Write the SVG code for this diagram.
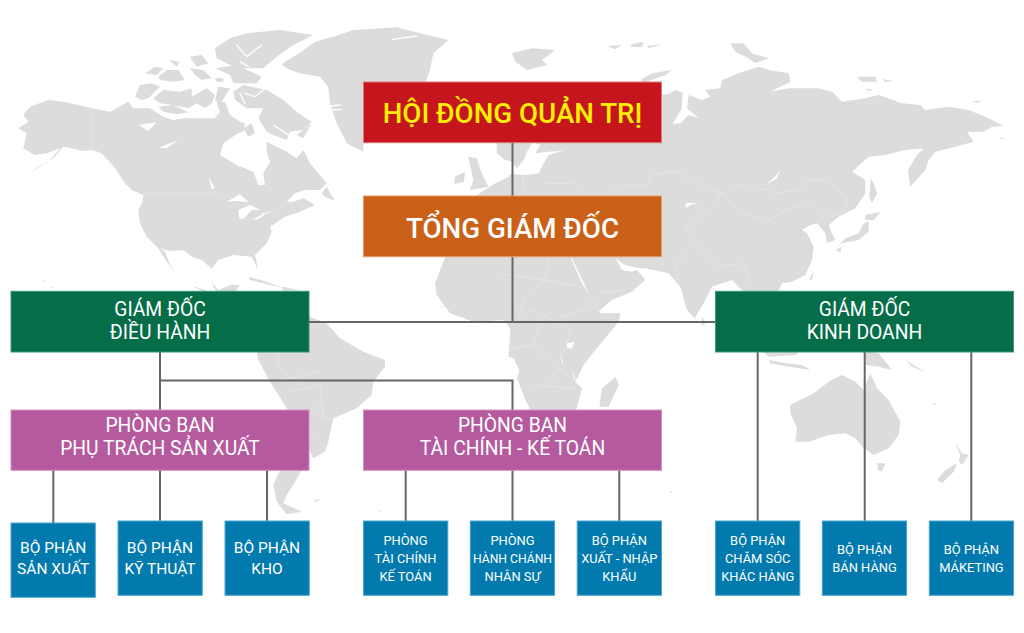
<svg xmlns="http://www.w3.org/2000/svg" width="1024" height="633" viewBox="0 0 1024 633">
<style>
.land{fill:#dcdcdc;stroke:none}
.sea{fill:#fff;stroke:none}
.chan{fill:none;stroke:#fff;stroke-width:4;stroke-linecap:round;stroke-linejoin:round}
.bd{fill:none;stroke:#e9e9e9;stroke-width:2}
.c{fill:none;stroke:#666;stroke-width:2}
text{font-family:Roboto,"Liberation Sans",sans-serif;text-anchor:middle;fill:#fff}
.t1{font-size:27.7px;font-weight:500}
.t2{font-size:19.3px}
.t3{font-size:15.5px}
.t4{font-size:12.9px}
.red{fill:#c5161d;stroke:#e2777a}
.org{fill:#cb6018;stroke:#e59a64}
.grn{fill:#056d47;stroke:#3b9775}
.pnk{fill:#b55a9f;stroke:#d68fc5}
.blu{fill:#027aae;stroke:#4aa5cf}
</style>
<rect width="1024" height="633" fill="#fff"/>
<g id="map">
<g transform="translate(10,95) scale(.33333)">
<path class="land" d="M30,245L60,232L95,210L130,190L160,155L185,160L215,168L250,165L275,175L300,200L320,225L345,265L365,285L400,300L398,320L385,345L390,385L410,425L445,460L470,500L505,545L480,510L465,470L450,460L480,468L520,465L545,485L575,495L605,520L610,575L620,590L660,590L665,570L625,585L608,565L606,520L625,495L670,480L725,485L745,525L735,480L770,445L785,410L780,395L825,365L870,350L915,330L880,310L850,320L830,320L855,295L885,285L930,285L950,265L925,235L900,205L880,165L860,190L830,170L770,140L770,170L780,200L760,235L765,270L745,270L730,230L680,210L630,180L640,145L690,110L640,118L665,100L705,90L650,72L610,70L520,70L490,75L460,65L420,40L370,40L355,20L300,50L245,40L170,22L115,15L60,35L40,60L55,80L25,100L50,115L40,160L75,180L110,175L150,160L120,195L75,225Z"/>
<path class="land" d="M935,295L950,275L975,318L945,305Z"/>
<path class="land" d="M700,100L725,85L735,115L715,125ZM880,105L905,85L880,130L860,120ZM95,555L105,558L100,560ZM122,572L130,578L124,580Z"/>
<path class="sea" d="M385,90L440,82L415,108ZM445,158L505,135L470,160ZM595,245L615,280L605,282ZM650,320L690,298L715,322L680,318ZM685,345L720,330L750,345L725,345L700,372L688,370ZM725,375L785,345L745,372ZM750,355L785,350L760,358ZM772,78L795,62L790,78Z"/>
<path class="bd" d="M245,40L245,165L275,175L320,225L340,265M400,297L625,297L665,310M450,460L480,468L520,465L545,485L575,495L605,520M830,320L800,345L760,358"/>
</g>
<g transform="translate(130,25) scale(.33333)">
<path class="land" d="M255,70L300,40L350,25L450,15L550,30L490,60L440,95L400,130L330,130L300,120L260,100Z"/>
<path class="land" d="M255,130L320,120L395,155L380,175L310,175L300,150Z"/>
<path class="land" d="M45,145L75,125L100,130L80,150ZM85,155L110,135L145,135L165,165L130,170L90,165ZM115,105L150,110L140,125ZM180,95L215,90L235,115L200,125ZM180,130L220,135L245,160L215,165L195,150ZM255,160L280,160L280,170L260,170Z"/>
<path class="land" d="M15,215L30,180L65,175L90,185L55,220L35,225Z"/>
<path class="land" d="M70,220L100,195L150,200L185,190L185,215L230,190L255,210L245,235L225,250L200,235L175,250L130,240L90,235Z"/>
<path class="land" d="M85,245L130,240L175,262L140,268L100,260Z"/>
<path class="land" d="M265,185L300,190L270,240L255,225Z"/>
<path class="land" d="M250,285L270,260L260,235L285,230L300,270L330,290L345,295L340,320L300,330L275,345L280,300Z"/>
<path class="land" d="M310,200L340,180L410,195L460,225L505,265L545,290L520,315L480,320L470,345L430,330L410,320L385,280L400,250L350,250L315,225Z"/>
<path class="chan" d="M320,60L350,95L395,60M330,110L355,125M345,205L375,215L400,195M430,300L490,340M330,205L345,235"/>
<path class="chan" style="stroke-width:7" d="M440,100L510,60L550,35"/>
</g>
<g transform="translate(0,20) scale(.33333)">
<path class="land" d="M855,125L900,98L945,65L1000,50L1060,30L1190,22L1260,40L1345,60L1300,100L1290,150L1275,190L1090,370L1090,395L1040,370L1010,310L990,250L985,200L960,170L900,160L870,150L845,135Z"/>
<path class="chan" d="M990,258L1020,255M995,270L1022,268M1178,58L1250,48"/>
<path class="land" d="M1405,410L1430,415L1445,460L1465,500L1410,510L1420,480Z"/>
<path class="land" d="M1365,470L1395,455L1392,485L1362,492Z"/>
<path class="land" d="M745,770L800,785L850,805L790,790L750,780Z"/>
<path class="land" d="M845,800L900,810L850,812Z"/>
<path class="bd" d="M1310,790L1370,720L1480,800L1535,760M1320,860L1400,850L1480,805"/>
</g>
<g transform="translate(512,20) scale(.33333)">
<path class="land" d="M440,225L468,222L490,210L512,218L510,265L495,290L482,312L505,310L530,285L560,295L525,265L530,225L570,240L595,230L580,210L625,205L630,180L680,160L740,140L770,150L830,160L835,185L775,215L830,205L920,205L960,215L990,245L1060,235L1100,225L1170,250L1225,255L1240,270L1310,260L1370,270L1420,290L1475,318L1440,320L1415,335L1365,335L1385,365L1330,380L1270,395L1250,420L1240,450L1195,500L1188,450L1215,405L1255,365L1240,385L1180,390L1120,405L1070,410L1020,455L1060,480L1060,520L1030,565L980,590L950,615L960,640L970,660L945,670L940,640L915,610L895,615L870,630L885,640L905,680L900,720L880,765L840,785L810,790L800,812L780,830L700,830L690,810L660,780L630,790L600,800L575,850L548,895L525,870L505,800L470,760L400,745L380,745L340,735L310,715L330,750L360,755L375,750L400,780L360,815L300,840L262,872L230,820L180,715L-100,600L-105,525L-50,490L-10,470L-5,462L40,465L80,460L95,430L110,405L155,392L110,395L70,400L85,375L70,368L70,300Z"/>
<path class="land" d="M-46,360L-46,400L-20,420L0,425L15,445L35,420L45,395L60,370L60,360Z"/>
<path class="land" d="M-196,700L-231,790L-226,825L-186,880L-116,905L-26,900L-5,925L-10,1010L5,1015L22,1050L15,1075L40,1140L60,1180L190,1180L210,1105L190,1085L215,1035L250,990L320,905L325,880L265,880L255,860L210,790L170,700Z"/>
<path class="land" d="M0,100L60,85L130,90L90,120L105,135L45,150L10,125Z"/>
<path class="land" d="M285,78L330,75L310,88ZM360,72L395,65L390,82L355,80ZM405,78L450,72L410,85Z"/>
<path class="land" d="M655,70L695,70L720,100L770,115L730,130L710,115L670,95Z"/>
<path class="land" d="M385,180L420,160L480,150L460,165L400,187Z"/>
<path class="land" d="M1035,170L1090,170L1095,185L1050,185ZM1110,178L1145,182L1120,186ZM1060,205L1085,210L1070,214ZM1380,243L1410,242L1395,248ZM1460,352L1485,358L1470,358Z"/>
<path class="land" d="M1075,475L1085,490L1095,520L1080,550L1072,530L1075,500Z"/>
<path class="land" d="M1060,585L1105,575L1085,600L1060,600Z"/>
<path class="land" d="M1055,610L1070,605L1070,635L1040,660L990,670L975,682L1000,655L1040,640Z"/>
<path class="land" d="M972,690L990,680L985,698Z"/>
<path class="land" d="M890,778L905,755L900,780Z"/>
<path class="sea" d="M805,450L795,475L760,495L785,475ZM520,550L560,548L535,555L522,565Z"/>
<path class="bd" d="M290,525L330,495L410,495L420,465L490,455L560,490L630,520L700,490L790,520L860,510L890,480L950,480L1010,540L1000,570L960,590L890,545L830,565L770,600L690,580L630,520L590,570L520,620L560,660L520,700L490,740L500,790M560,680L620,740L700,730L710,790M30,465L40,525M100,490L180,490L240,525M-40,760L100,780L110,715M100,780L40,830L20,900M100,780L210,800M150,890L255,860M260,820L340,810"/>
</g>
<g transform="translate(512,285) scale(.33333)">
<path class="land" d="M310,275L320,300L290,365L262,365L270,310Z"/>
<path class="land" d="M570,95L582,115L568,122Z"/>
<path class="land" d="M835,360L905,325L950,290L990,270L1030,290L1055,315L1075,265L1095,310L1130,345L1165,410L1160,450L1130,490L1085,510L1055,490L1030,460L1000,445L950,450L890,470L850,470L855,430L835,385Z"/>
<path class="land" d="M1095,535L1120,535L1110,560L1098,555Z"/>
<path class="land" d="M1275,585L1300,555L1335,535L1325,560L1290,595Z"/>
<path class="land" d="M1330,475L1350,505L1370,510L1350,540L1340,530L1345,510Z"/>
<path class="land" d="M1060,195L1100,205L1140,255L1100,245L1060,240Z"/>
<path class="land" d="M770,225L820,235L870,240L895,255L830,245L775,235ZM1180,225L1240,262L1200,245ZM1260,350L1280,362L1265,358ZM470,618L485,620L475,623ZM750,195L870,195L850,210L770,215Z"/>
<path class="sea" d="M165,175L188,170L180,190L165,190ZM145,200L155,240L150,235ZM180,250L192,290L185,280Z"/>
<path class="bd" d="M0,60L100,90L180,140L150,210M100,90L60,180L140,250L190,290M0,190L60,180M60,300L190,310M110,300L140,250"/>
</g>
<g transform="translate(0,285) scale(.33333)">
<path class="land" d="M570,0L620,25L700,25L720,0L690,0L640,25Z"/>
<path class="land" d="M700,100L930,95L980,115L1020,160L1090,200L1155,225L1155,245L1120,290L1115,330L1070,370L1000,400L985,470L975,500L940,520L880,400L810,290L775,225L770,200Z"/>
<path class="land" d="M840,555L905,555L880,600L860,630L850,655L905,680L860,688L830,650L820,600Z"/>
<path class="land" d="M940,645L965,642L950,650ZM1130,672L1147,680L1135,678Z"/>
<path class="bd" d="M835,200L830,240L870,280L960,260M870,280L810,290M870,320L960,300L970,400L1000,400M930,350L960,380M880,370L965,480"/>
</g>
</g>
<g id="connectors">
<path class="c" d="M512.5,143V196M512.5,257V322M309,322H716M160,352V410M160,380.5H513.5M512.5,380.5V410M53.3,470V523M160,470V521M267,470V521M405.7,470V521M512.5,470V521M619.3,470V521M757.7,352V521M864.7,352V521M971.3,352V521"/>
</g>
<g id="n-hdqt"><rect class="red" x="363.5" y="82" width="298" height="60.7"/><text class="t1" x="512.5" y="122.7" style="fill:#ffef00">HỘI ĐỒNG QUẢN TRỊ</text></g>
<g id="n-tgd"><rect class="org" x="363.5" y="196" width="298" height="60.7"/><text class="t1" x="512.5" y="237.7">TỔNG GIÁM ĐỐC</text></g>
<g id="n-gddh"><rect class="grn" x="11" y="291.3" width="298" height="60.7"/><text class="t2" x="160" y="316">GIÁM ĐỐC</text><text class="t2" x="160" y="338.8">ĐIỀU HÀNH</text></g>
<g id="n-gdkd"><rect class="grn" x="715.5" y="291.3" width="298" height="60.7"/><text class="t2" x="864.5" y="316">GIÁM ĐỐC</text><text class="t2" x="864.5" y="338.8">KINH DOANH</text></g>
<g id="n-pbsx"><rect class="pnk" x="11" y="410" width="298" height="60.3"/><text class="t2" x="160" y="432">PHÒNG BAN</text><text class="t2" x="160" y="455">PHỤ TRÁCH SẢN XUẤT</text></g>
<g id="n-pbtc"><rect class="pnk" x="363.5" y="410" width="298" height="60.3"/><text class="t2" x="512.5" y="432">PHÒNG BAN</text><text class="t2" x="512.5" y="455">TÀI CHÍNH - KẾ TOÁN</text></g>
<g id="n-sx"><rect class="blu" x="11" y="523" width="84.3" height="74.3"/><text class="t3" x="53.2" y="552.7">BỘ PHẬN</text><text class="t3" x="53.2" y="574">SẢN XUẤT</text></g>
<g id="n-kt"><rect class="blu" x="118" y="521" width="84.3" height="74.3"/><text class="t3" x="160" y="552.7">BỘ PHẬN</text><text class="t3" x="160" y="574">KỸ THUẬT</text></g>
<g id="n-kho"><rect class="blu" x="225" y="521" width="84.3" height="74.3"/><text class="t3" x="267" y="552.7">BỘ PHẬN</text><text class="t3" x="267" y="574">KHO</text></g>
<g id="n-tckt"><rect class="blu" x="363.5" y="521" width="84.3" height="74.3"/><text class="t4" x="405.5" y="544.7">PHÒNG</text><text class="t4" x="405.5" y="562.7">TÀI CHÍNH</text><text class="t4" x="405.5" y="580.7">KẾ TOÁN</text></g>
<g id="n-hcns"><rect class="blu" x="470.3" y="521" width="84.3" height="74.3"/><text class="t4" x="512.5" y="544.7">PHÒNG</text><text class="t4" x="512.5" y="562.7" textLength="79" lengthAdjust="spacingAndGlyphs">HÀNH CHÁNH</text><text class="t4" x="512.5" y="580.7">NHÂN SỰ</text></g>
<g id="n-xnk"><rect class="blu" x="577.2" y="521" width="84.3" height="74.3"/><text class="t4" x="619.3" y="544.7">BỘ PHẬN</text><text class="t4" x="619.3" y="562.7">XUẤT - NHẬP</text><text class="t4" x="619.3" y="580.7">KHẨU</text></g>
<g id="n-cskh"><rect class="blu" x="715.5" y="521" width="84.3" height="74.3"/><text class="t4" x="757.7" y="544.7">BỘ PHẬN</text><text class="t4" x="757.7" y="562.7">CHĂM SÓC</text><text class="t4" x="757.7" y="580.7">KHÁC HÀNG</text></g>
<g id="n-bh"><rect class="blu" x="822.3" y="521" width="84.3" height="74.3"/><text class="t4" x="864.5" y="553.7">BỘ PHẬN</text><text class="t4" x="864.5" y="571.7">BÁN HÀNG</text></g>
<g id="n-mkt"><rect class="blu" x="929.3" y="521" width="84.3" height="74.3"/><text class="t4" x="971.4" y="553.7">BỘ PHẬN</text><text class="t4" x="971.4" y="571.7">MÁKETING</text></g>
</svg>
